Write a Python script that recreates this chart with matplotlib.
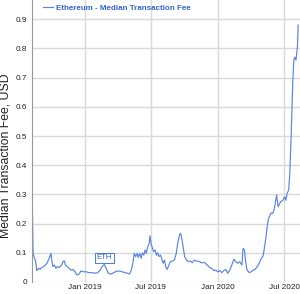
# Ethereum median transaction fee, Aug 2018 - Aug 2020
import matplotlib
matplotlib.use("Agg")
import matplotlib.pyplot as plt
import matplotlib.dates as mdates
import pandas as pd

plt.rcParams['font.family'] = ['Liberation Sans', 'DejaVu Sans']

# values (USD)
dates = [
    '2018-08-11', '2018-08-13', '2018-08-17', '2018-08-20', '2018-08-23', '2018-08-28',
    '2018-09-01', '2018-09-05', '2018-09-12', '2018-09-20', '2018-09-26', '2018-10-01',
    '2018-10-03', '2018-10-06', '2018-10-10', '2018-10-15', '2018-10-19', '2018-10-24',
    '2018-10-30', '2018-11-03', '2018-11-06', '2018-11-10', '2018-11-14', '2018-11-19',
    '2018-11-25', '2018-11-30', '2018-12-06', '2018-12-11', '2018-12-17', '2018-12-22',
    '2018-12-29', '2019-01-06', '2019-01-13', '2019-01-21', '2019-01-30', '2019-02-06',
    '2019-02-13', '2019-02-18', '2019-02-24', '2019-03-01', '2019-03-07', '2019-03-14',
    '2019-03-22', '2019-03-31', '2019-04-07', '2019-04-14', '2019-04-22', '2019-04-29',
    '2019-05-04', '2019-05-09', '2019-05-14', '2019-05-17', '2019-05-21', '2019-05-25',
    '2019-05-28', '2019-06-01', '2019-06-05', '2019-06-08', '2019-06-12', '2019-06-16',
    '2019-06-19', '2019-06-23', '2019-06-27', '2019-06-29', '2019-07-02', '2019-07-06',
    '2019-07-09', '2019-07-13', '2019-07-17', '2019-07-20', '2019-07-24', '2019-07-28',
    '2019-07-31', '2019-08-04', '2019-08-08', '2019-08-11', '2019-08-15', '2019-08-19',
    '2019-08-24', '2019-08-30', '2019-09-04', '2019-09-09', '2019-09-13', '2019-09-18',
    '2019-09-21', '2019-09-25', '2019-09-29', '2019-10-02', '2019-10-07', '2019-10-12',
    '2019-10-18', '2019-10-23', '2019-10-29', '2019-11-03', '2019-11-11', '2019-11-18',
    '2019-11-25', '2019-12-03', '2019-12-10', '2019-12-15', '2019-12-21', '2019-12-26',
    '2020-01-01', '2020-01-06', '2020-01-12', '2020-01-17', '2020-01-23', '2020-01-28',
    '2020-02-03', '2020-02-08', '2020-02-14', '2020-02-19', '2020-02-25', '2020-03-01',
    '2020-03-07', '2020-03-10', '2020-03-14', '2020-03-17', '2020-03-21', '2020-03-27',
    '2020-04-01', '2020-04-07', '2020-04-12', '2020-04-18', '2020-04-23', '2020-04-29',
    '2020-05-04', '2020-05-08', '2020-05-12', '2020-05-15', '2020-05-19', '2020-05-23',
    '2020-05-26', '2020-05-30', '2020-06-03', '2020-06-06', '2020-06-10', '2020-06-14',
    '2020-06-21', '2020-06-27', '2020-07-02', '2020-07-05', '2020-07-09', '2020-07-13',
    '2020-07-16', '2020-07-20', '2020-07-24', '2020-07-27', '2020-07-30', '2020-08-02',
    '2020-08-06', '2020-08-08',
]
fees = [
    0.258, 0.098, 0.081, 0.070, 0.039, 0.047,
    0.043, 0.049, 0.053, 0.064, 0.081, 0.098,
    0.075, 0.053, 0.058, 0.047, 0.053, 0.050,
    0.058, 0.070, 0.073, 0.058, 0.053, 0.047,
    0.041, 0.043, 0.035, 0.024, 0.027, 0.038,
    0.035, 0.035, 0.032, 0.032, 0.030, 0.032,
    0.041, 0.053, 0.060, 0.047, 0.030, 0.027,
    0.032, 0.038, 0.037, 0.035, 0.032, 0.030,
    0.027, 0.041, 0.070, 0.098, 0.087, 0.098,
    0.084, 0.098, 0.081, 0.100, 0.092, 0.110,
    0.098, 0.121, 0.132, 0.158, 0.132, 0.115,
    0.104, 0.110, 0.092, 0.100, 0.087, 0.092,
    0.081, 0.064, 0.075, 0.053, 0.043, 0.055,
    0.070, 0.072, 0.075, 0.098, 0.132, 0.161,
    0.167, 0.144, 0.110, 0.087, 0.075, 0.070,
    0.072, 0.066, 0.075, 0.072, 0.070, 0.066,
    0.067, 0.058, 0.049, 0.047, 0.039, 0.041,
    0.035, 0.039, 0.032, 0.039, 0.043, 0.030,
    0.041, 0.058, 0.078, 0.070, 0.064, 0.070,
    0.058, 0.115, 0.110, 0.070, 0.041, 0.032,
    0.035, 0.041, 0.043, 0.053, 0.064, 0.081,
    0.089, 0.121, 0.155, 0.190, 0.218, 0.229,
    0.237, 0.235, 0.247, 0.269, 0.298, 0.258,
    0.275, 0.280, 0.292, 0.280, 0.304, 0.315,
    0.372, 0.509, 0.680, 0.760, 0.770, 0.760,
    0.806, 0.880,
]
series_name = 'Ethereum - Median Transaction Fee'
annotation_date = '2019-02-24'
annotation_text = 'ETH'

df = pd.DataFrame({'date': pd.to_datetime(dates), 'fee': fees})

fig = plt.figure(figsize=(3.0, 2.94), dpi=100)
ax = fig.add_axes([32 / 300, 12 / 294, 268 / 300, 282 / 294])

ax.plot(df['date'], df['fee'], color='#5a84e2', linewidth=0.85)

ax.set_ylim(0, 0.966)
ax.set_xlim(pd.Timestamp('2018-08-10'), pd.Timestamp('2020-08-13'))
ax.set_yticks([0, 0.1, 0.2, 0.3, 0.4, 0.5, 0.6, 0.7, 0.8, 0.9])
ax.set_yticklabels(['0', '0.1', '0.2', '0.3', '0.4', '0.5', '0.6', '0.7', '0.8', '0.9'])
ax.xaxis.set_major_locator(mdates.MonthLocator(bymonth=[1, 7]))
ax.xaxis.set_major_formatter(mdates.DateFormatter('%b %Y'))

ax.grid(True, color='#d9d9d9', linewidth=1)
ax.set_axisbelow(True)
ax.tick_params(length=0, labelsize=5.9, colors='#222222')
ax.tick_params(axis='y', pad=3.4)
ax.tick_params(axis='x', pad=1.5)
for s in ['top', 'right', 'bottom']:
    ax.spines[s].set_visible(False)
ax.spines['left'].set_color('#999999')
ax.spines['left'].set_linewidth(0.8)

ax.set_ylabel('Median Transaction Fee, USD', fontsize=8.8, color='#222222')
ax.yaxis.set_label_coords(-0.078, 0.447)

# annotation box over the Feb 2019 bump
peak = df.loc[df['date'] == annotation_date, 'fee'].iloc[0]
ax.annotate(annotation_text, (pd.Timestamp(annotation_date), peak), xytext=(0, 4.7),
            textcoords='offset points', ha='center', va='center', fontsize=5.6,
            color='#3366cc',
            bbox=dict(boxstyle='square,pad=0.2', fc='white', ec='#3366cc', lw=0.6))

# legend at the top
leg = ax.legend([series_name], loc='upper left', bbox_to_anchor=(0.015, 1.01),
                frameon=False, handlelength=1.2, handletextpad=0.4,
                prop={'size': 5.8, 'weight': 'bold'})
for t in leg.get_texts():
    t.set_color('#3366cc')

fig.savefig('out.png', dpi=100)
